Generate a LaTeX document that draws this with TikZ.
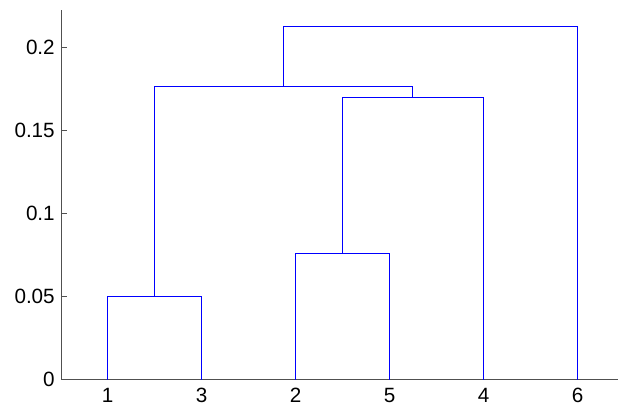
\documentclass[tikz,border=0pt]{standalone}
\usepackage{fontspec}
\setmainfont{Liberation Sans}
\definecolor{axisgray}{RGB}{80,80,80}
\definecolor{linkblue}{RGB}{0,0,255}
\tikzset{
	link/.style={draw=linkblue, line width=1.3},
	axis/.style={draw=axisgray, line width=0.75},
	ticklabel/.style={inner sep=0.75pt, font=\fontsize{15.5}{18}\selectfont}
}
\begin{document}
\begin{tikzpicture}[x=0.75pt,y=0.75pt,yscale=-1,xscale=1]
	\useasboundingbox (0,0) rectangle (618,405);
	
	% Leaves and merge points
	\coordinate (l1) at (107.5,379.5);
	\coordinate (l3) at (201.5,379.5);
	\coordinate (l2) at (295.5,379.5);
	\coordinate (l5) at (389.5,379.5);
	\coordinate (l4) at (483.5,379.5);
	\coordinate (l6) at (577.5,379.5);
	\coordinate (m13) at (154.5,296.5);
	\coordinate (m25) at (342.5,253.5);
	\coordinate (m254) at (412.5,97.5);
	\coordinate (m1325) at (283.5,86.5);
	\coordinate (mtop) at (430.5,26.5);
	
	%Axes
	\draw [axis] (61.5,10) -- (61.5,379.5) -- (618,379.5) ;
	\foreach \ty/\tl in {379.5/0, 296.5/0.05, 213.5/0.1, 130.5/0.15, 47.5/0.2}{
		\draw [axis] (61.5,\ty) -- (66.5,\ty) ;
		\draw (56,\ty) node [anchor=east][ticklabel] {\tl};
	}
	\foreach \c/\tl in {l1/1, l3/3, l2/2, l5/5, l4/4, l6/6}{
		\draw [axis] (\c) -- ++(0,-5) ;
		\path (\c) ++(0,23) node [anchor=base][ticklabel] {\tl};
	}
	
	%Links
	\draw [link] (l1) |- (m13) -| (l3) ;
	\draw [link] (l2) |- (m25) -| (l5) ;
	\draw [link] (m25) |- (m254) -| (l4) ;
	\draw [link] (m13) |- (m1325) -| (m254) ;
	\draw [link] (m1325) |- (mtop) -| (l6) ;
\end{tikzpicture}
\end{document}
